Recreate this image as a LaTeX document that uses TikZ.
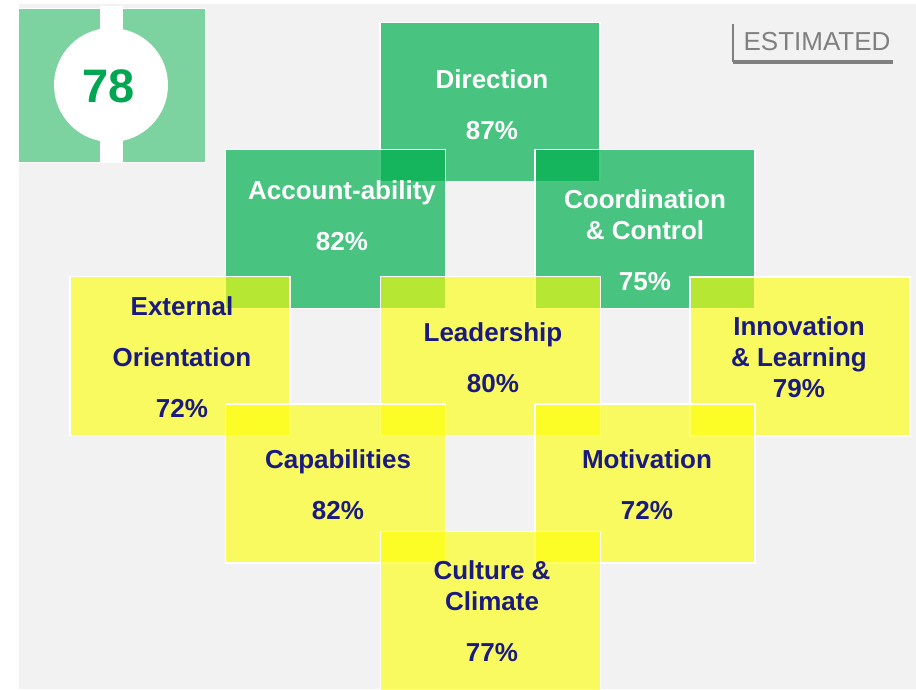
\documentclass[tikz,border=0pt]{standalone}
\usepackage{fontspec}
\setmainfont{Liberation Sans}
\definecolor{boxgreen}{RGB}{0,176,80}
\definecolor{boxyellow}{RGB}{255,255,0}
\definecolor{scoregreen}{RGB}{125,211,160}
\definecolor{numgreen}{RGB}{0,166,81}
\definecolor{navytext}{RGB}{26,26,128}
\definecolor{bggray}{RGB}{242,242,242}
\tikzset{
  pane/.style={draw=white,line width=1.5pt,minimum width=220pt,minimum height=159pt,inner sep=0pt},
  gbox/.style={pane,fill=boxgreen,fill opacity=.7},
  ybox/.style={pane,fill=boxyellow,fill opacity=.6},
  wtext/.style={text=white,font=\fontsize{26}{31}\selectfont\bfseries,align=center},
  btext/.style={text=navytext,font=\fontsize{26}{31}\selectfont\bfseries,align=center}
}
\begin{document}
\begin{tikzpicture}[x=1pt,y=-1pt]
\useasboundingbox (0,0) rectangle (916,689);
\fill[white] (0,0) rectangle (916,689);
\fill[bggray] (19,4) rectangle (916,689);
% score badge
\fill[scoregreen,draw=white,line width=1pt] (18,8) rectangle (205,162);
\fill[white] (100,6) rectangle (123,162);
\fill[white] (111,85) circle (57);
\node[text=numgreen,font=\fontsize{47}{50}\selectfont\bfseries] (score) at (109,86) {78};
% estimated tag
\node[text=gray,font=\fontsize{26}{30}\selectfont] (est) at (817,41.5) {ESTIMATED};
\draw[gray,line width=1.5pt] (733,24)--(733,62);
\draw[gray,line width=3.5pt] (733,62)--(893,62);
% green boxes
\node[gbox] (dir) at (490,102) {};
\node[gbox] (acc) at (335.5,229) {};
\node[gbox] (coord) at (645,229) {};
% yellow boxes
\node[ybox] (ext) at (180,356) {};
\node[ybox] (lead) at (490.5,356) {};
\node[ybox] (innov) at (800,356.5) {};
\node[ybox] (cap) at (335.5,483.5) {};
\node[ybox] (motiv) at (645,483.5) {};
\node[ybox] (cult) at (490.5,611) {};
% labels
\node[wtext] (dirT) at (492,104.5) {Direction\\[20pt]87\%};
\node[wtext] (accT) at (342,215.5) {Account-ability\\[20pt]82\%};
\node[wtext] (coordT) at (645,240.5) {Coordination\\\& Control\\[20pt]75\%};
\node[btext] (extT) at (182,357.5) {External\\[20pt]Orientation\\[20pt]72\%};
\node[btext] (leadT) at (493,358) {Leadership\\[20pt]80\%};
\node[btext] (innovT) at (799,357.5) {Innovation\\\& Learning\\79\%};
\node[btext] (capT) at (338,485) {Capabilities\\[20pt]82\%};
\node[btext] (motivT) at (647,485) {Motivation\\[20pt]72\%};
\node[btext] (cultT) at (492,611.5) {Culture \&\\Climate\\[20pt]77\%};
\end{tikzpicture}
\end{document}
